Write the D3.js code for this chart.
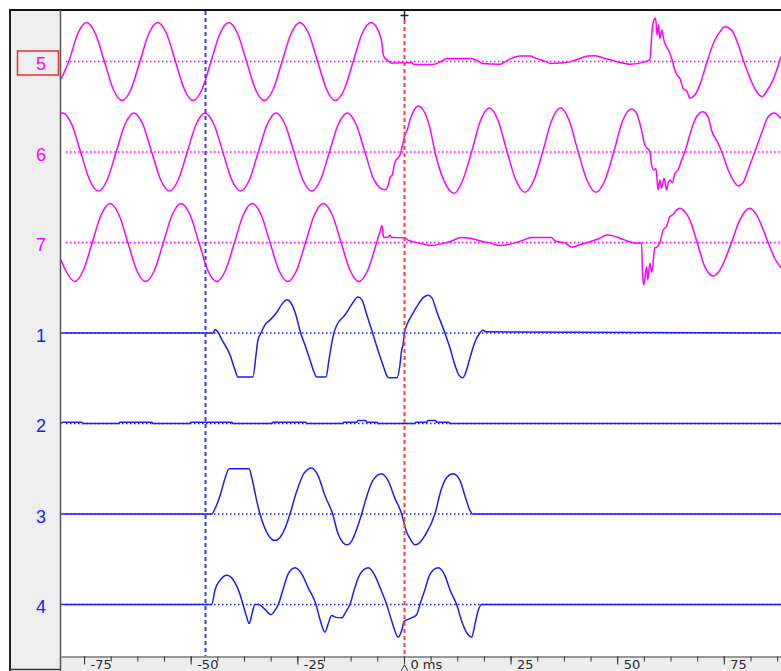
<!DOCTYPE html>
<html><head><meta charset="utf-8">
<script src="https://cdn.jsdelivr.net/npm/d3@7"></script>
<style>
html,body{margin:0;padding:0;background:#fff;}
svg{display:block;}
</style></head>
<body><svg id="c" width="781" height="671"></svg>
<script>
// ---- data (time in ms, value in per-unit) ----
const channelOrder = ["5","6","7","1","2","3","4"];
const channelColor = {"5":"#ff00ff","6":"#ff00ff","7":"#ff00ff","1":"#1c1cff","2":"#1c1cff","3":"#1c1cff","4":"#1c1cff"};
const majorTicks = [-75,-50,-25,0,25,50,75];
const majorLabels = ["-75","-50","-25","0 ms","25","50","75"];
const cursorTimes = [-46.6, 0];

const ch5 = [[-80.4,-.45],[-78.57,0],[-76.48,.71],[-74.4,1],[-72.32,.71],[-70.23,0],[-68.15,-.71],[-66.07,-1],[-63.98,-.71],[-61.9,0],[-59.82,.71],[-57.73,1],[-55.65,.71],[-53.57,0],[-51.48,-.71],[-49.4,-1],[-47.32,-.71],[-45.23,0],[-43.15,.71],[-41.07,1],[-38.98,.71],[-36.9,0],[-34.82,-.71],[-32.73,-1],[-30.65,-.71],[-28.57,0],[-26.48,.71],[-24.4,1],[-22.32,.71],[-20.23,0],[-18.15,-.71],[-16.07,-1],[-13.98,-.71],[-11.9,0],[-9.82,.71],[-7.73,1],[-6.1,.81],[-5.16,.47],[-4.85,.17],[-4.45,.09],[-3.75,.03],[-3.05,-.04],[1.87,-.03],[2.34,-.08],[6.56,-.08],[8.67,0],[10.08,.08],[15.47,.08],[16.87,.04],[18.5,-.05],[22.5,-.07],[23.67,-.01],[24.84,.06],[27.19,.14],[29.53,.14],[30.94,.08],[33.04,.01],[34.45,-.05],[36.56,-.04],[38.9,-.01],[40.31,.04],[43.12,.14],[44.76,.15],[47.1,.08],[49.45,.01],[51.79,-.05],[52.96,-.07],[56.48,-.01],[57.65,.04],[58.19,.81],[58.59,1.06],[58.99,1.11],[59.36,.68],[59.69,.94],[60.0,.59],[60.47,.81],[60.93,.55],[61.56,.38],[62.34,.21],[62.97,0],[63.51,-.22],[64.05,-.35],[64.68,-.43],[65.46,-.69],[66.39,-.77],[67.03,-.94],[68.2,-.86],[69.37,-.6],[71.08,0],[72.89,.55],[74.06,.76],[75.23,.89],[76.8,.81],[77.97,.55],[79.68,0],[81.49,-.52],[82.66,-.77],[83.97,-.9],[85.0,-.77],[86.55,-.47],[88.4,.12]];

const ch6 = [[-80.4,.99],[-79.97,1],[-77.89,.71],[-75.8,0],[-73.72,-.71],[-71.64,-1],[-69.55,-.71],[-67.47,0],[-65.39,.71],[-63.3,1],[-61.22,.71],[-59.14,0],[-57.05,-.71],[-54.97,-1],[-52.89,-.71],[-50.8,0],[-48.72,.71],[-46.64,1],[-44.55,.71],[-42.47,0],[-40.39,-.71],[-38.3,-1],[-36.22,-.71],[-34.14,0],[-32.05,.71],[-29.97,1],[-27.89,.71],[-25.8,0],[-23.72,-.71],[-21.64,-1],[-19.55,-.71],[-17.47,0],[-15.39,.71],[-13.3,1],[-11.22,.71],[-9.14,0],[-7.05,-.71],[-5.62,-.92],[-4.45,-.97],[-3.9,-.92],[-3.6,-.8],[-3.2,-.64],[-2.8,-.6],[-2.11,-.26],[-.94,-.08],[-.16,.26],[.23,.44],[.63,.52],[1.41,.82],[2.19,1.03],[3.35,1.18],[4.92,1.0],[6.09,.62],[7.27,0],[9.4,-.74],[11.79,-1.06],[13.77,-.73],[15.85,0],[17.94,.8],[20.02,1.13],[22.1,.8],[24.19,0],[26.27,-.73],[28.35,-1.03],[30.44,-.73],[32.52,0],[34.6,.8],[36.69,1.13],[38.77,.8],[40.85,0],[42.94,-.73],[45.02,-1.03],[47.1,-.73],[49.19,0],[51.27,.8],[53.35,1.1],[54.53,.99],[55.7,.56],[56.48,.18],[57.65,.01],[58.05,-.33],[58.59,-.46],[59.06,-.42],[59.36,-.72],[59.6,-.97],[60.0,-.72],[60.39,-.93],[61.0,-.67],[61.56,-.97],[61.94,-.8],[62.34,-.72],[62.97,-.79],[63.51,-.55],[64.28,-.46],[65.08,-.21],[65.85,0],[67.03,.44],[68.2,.82],[69.21,.99],[70.0,1.03],[71.31,.9],[72.11,.56],[73.66,.22],[74.53,0],[76.0,-.46],[77.17,-.72],[78.35,-.87],[79.52,-.79],[80.69,-.46],[82.26,0],[83.97,.52],[85.38,.9],[86.78,1.0],[88.4,.86]];

const ch7 = [[-80.4,-.45],[-79.32,-.71],[-77.23,-1],[-75.15,-.71],[-73.07,0],[-70.98,.71],[-68.9,1],[-66.82,.71],[-64.73,0],[-62.65,-.71],[-60.57,-1],[-58.48,-.71],[-56.4,0],[-54.32,.71],[-52.23,1],[-50.15,.71],[-48.07,0],[-45.98,-.71],[-43.9,-1],[-41.82,-.71],[-39.73,0],[-37.65,.71],[-35.57,1],[-33.48,.71],[-31.4,0],[-29.32,-.71],[-27.23,-1],[-25.15,-.71],[-23.07,0],[-20.98,.71],[-18.9,1],[-16.82,.71],[-14.73,0],[-12.65,-.71],[-10.57,-1],[-8.48,-.71],[-6.4,0],[-6.02,.14],[-5.62,.27],[-5.23,.42],[-5.04,.4],[-4.85,.17],[-4.69,.13],[-3.6,.14],[-3.28,.19],[-2.9,.13],[.23,.12],[.94,.06],[3.75,-.02],[6.49,-.08],[8.44,-.04],[10.78,.02],[13.52,.13],[15.47,.11],[18.58,.02],[20.15,-.01],[22.5,-.08],[26.01,-.01],[27.96,.06],[29.93,.13],[34.61,.13],[35.39,.04],[37.73,-.01],[39.3,-.12],[41.25,-.06],[43.59,.02],[45.93,.11],[47.5,.19],[49.05,.17],[51.39,.08],[54.14,-.01],[55.7,-.01],[55.94,-.83],[56.25,-1.09],[56.88,-.62],[57.18,-.96],[57.65,-.53],[58.12,-.76],[58.82,-.14],[59.29,-.12],[60.0,-.01],[60.77,.32],[61.56,.41],[62.34,.66],[63.04,.71],[63.91,.83],[64.68,.88],[65.85,.79],[67.03,.58],[68.74,0],[70.54,-.62],[72.49,-.86],[74.06,-.71],[76.8,0],[78.74,.58],[81.09,.88],[82.66,.71],[85.38,0],[86.95,-.41],[88.4,-.65]];

const ch1 = [[-80.4,0],[-44.76,0],[-44.3,.09],[-43.82,.05],[-42.65,-.18],[-40.78,-.56],[-39.6,-.95],[-38.9,-1.13],[-35.39,-1.13],[-34.68,-.56],[-34.22,-.18],[-33.51,0],[-32.58,.21],[-31.41,.33],[-29.76,.54],[-28.59,.74],[-27.42,.85],[-26.48,.77],[-25.54,.54],[-24.21,0],[-23.2,-.31],[-22.03,-.69],[-21.09,-1.0],[-20.46,-1.13],[-18.28,-1.13],[-17.58,-.69],[-16.87,-.23],[-16.41,0],[-15.7,.21],[-13.83,.46],[-12.19,.74],[-10.78,.92],[-9.84,.85],[-8.91,.54],[-7.34,0],[-6.09,-.44],[-4.92,-.82],[-3.98,-1.1],[-3.52,-1.15],[-1.64,-1.15],[-.94,-.82],[-.54,-.44],[-.23,-.31],[.12,0],[.7,.21],[1.87,.46],[3.28,.72],[4.45,.9],[5.62,.97],[6.56,.9],[7.73,.54],[9.61,0],[10.78,-.38],[11.95,-.82],[12.89,-1.08],[13.76,-1.15],[14.53,-1.0],[15.47,-.64],[16.64,-.23],[17.81,0],[18.51,.08],[19.22,.03],[88.4,0]];

const ch2 = [[-80.4,0],[-79.92,.03],[-75.47,.03],[-75.3,0],[-66.79,0],[-66.6,.03],[-59.06,.03],[-58.9,0],[-50.15,0],[-50.0,.03],[-40.31,.03],[-40.15,0],[-30.94,0],[-30.8,.03],[-22.97,.03],[-22.8,0],[-14.3,0],[-14.15,.03],[-11.01,.03],[-10.85,.08],[-8.91,.08],[-8.75,.03],[-6.33,.03],[-6.15,0],[2.58,0],[2.75,.03],[5.39,.03],[5.55,.08],[7.5,.08],[7.65,.03],[10.55,.03],[10.7,0],[88.4,0]];

const ch3 = [[-80.4,0],[-45.07,0],[-44.29,.14],[-43.12,.47],[-41.95,.91],[-41.01,1.16],[-36.33,1.16],[-35.62,.91],[-34.68,.42],[-33.75,0],[-32.58,-.37],[-31.41,-.6],[-30.23,-.68],[-29.06,-.6],[-27.89,-.37],[-26.72,0],[-25.08,.6],[-23.44,1.04],[-21.63,1.18],[-20.16,.99],[-18.51,.47],[-16.71,0],[-15.47,-.5],[-14.3,-.73],[-13.43,-.79],[-12.19,-.68],[-11.01,-.37],[-9.91,0],[-8.67,.47],[-7.27,.86],[-5.23,1.03],[-3.75,.86],[-2.11,.4],[-.54,0],[0,-.22],[.35,-.37],[1.41,-.63],[2.58,-.79],[3.75,-.73],[4.92,-.55],[7.27,0],[8.67,.6],[10.08,.94],[11.55,1.03],[13.12,.86],[14.3,.47],[15.47,.09],[16.17,0],[88.4,0]];

const ch4 = [[-80.4,0],[-45.07,0],[-44.29,.38],[-43.12,.62],[-41.48,.75],[-40.08,.64],[-38.44,.26],[-37.73,0],[-37.03,-.26],[-36.26,-.49],[-35.62,-.23],[-34.92,0],[-33.98,0],[-32.81,-.1],[-31.17,-.26],[-30.23,-.15],[-29.46,0],[-28.36,.38],[-27.19,.77],[-25.54,.94],[-23.9,.77],[-22.5,.44],[-20.62,0],[-19.69,-.38],[-18.51,-.71],[-17.81,-.51],[-16.95,-.28],[-15.94,-.33],[-14.6,-.34],[-13.59,-.18],[-12.66,0],[-11.48,.44],[-10.31,.77],[-8.37,.94],[-6.8,.74],[-5.62,.44],[-4.05,0],[-2.81,-.44],[-1.34,-.84],[-.47,-.64],[0,-.44],[1.41,-.36],[2.98,-.26],[3.75,0],[4.92,.38],[6.09,.77],[8.04,.94],[9.61,.74],[10.78,.38],[12.35,0],[13.59,-.44],[15.0,-.77],[15.87,-.84],[16.64,-.51],[17.34,-.18],[18.21,0],[88.4,0]];

const channelData = {"5":ch5,"6":ch6,"7":ch7,"1":ch1,"2":ch2,"3":ch3,"4":ch4};
const selectedChannel = "5";

// ---- layout ----
const svg = d3.select("#c");
const plotL = 61, plotR = 781, plotT = 11, plotB = 656;
const x = d3.scaleLinear().domain([-80.4, 88.4]).range([plotL, plotR]);
const row = d3.scalePoint().domain(channelOrder).range([61.5, 604.5]);
const v = d3.scaleLinear().domain([-1, 1]).range([39, -39]);

svg.append("rect").attr("width",781).attr("height",671).attr("fill","#fff");
svg.append("rect").attr("x",10).attr("y",10).attr("width",50).attr("height",660).attr("fill","#eeeeee");
svg.append("rect").attr("x",60).attr("y",656).attr("width",721).attr("height",15).attr("fill","#ececec");

svg.append("clipPath").attr("id","clip").append("rect")
  .attr("x",plotL).attr("y",plotT).attr("width",plotR-plotL).attr("height",plotB-plotT);

const plot = svg.append("g").attr("clip-path","url(#clip)");

// dotted baselines
plot.selectAll("line.base").data(channelOrder).join("line")
  .attr("class","base")
  .attr("x1",66).attr("x2",plotR)
  .attr("y1",d=>row(d)).attr("y2",d=>row(d))
  .attr("stroke",d=>channelColor[d]).attr("stroke-width",1.5)
  .attr("stroke-dasharray","1.5,2.5");

// traces
plot.selectAll("path.trace").data(channelOrder).join("path")
  .attr("class","trace")
  .attr("fill","none")
  .attr("stroke",d=>channelColor[d])
  .attr("stroke-width",1.5)
  .attr("stroke-linejoin","round")
  .attr("d",ch=>d3.line()
      .x(p=>x(p[0]))
      .y(p=>row(ch)+v(p[1]))
      .curve(d3.curveMonotoneX)(channelData[ch]));

// cursors
const cursorColors = ["#3a3aff","#ff4040"];
svg.selectAll("line.cursor").data(cursorTimes).join("line")
  .attr("class","cursor")
  .attr("x1",d=>Math.round(x(d))+0.5).attr("x2",d=>Math.round(x(d))+0.5)
  .attr("y1",(d,i)=>i===1?20:11).attr("y2",plotB)
  .attr("stroke",(d,i)=>cursorColors[i]).attr("stroke-width",2)
  .attr("stroke-dasharray","4,3");

// axis
const axisG = svg.append("g").attr("transform",`translate(0,${plotB+0.5})`);
const minorAxis = d3.axisBottom(x).tickValues(d3.range(-75, 88, 6.25)).tickSize(5).tickSizeOuter(0).tickFormat("");
const majorAxis = d3.axisBottom(x).tickValues(majorTicks).tickSize(8).tickSizeOuter(0)
  .tickFormat((d,i)=>majorLabels[i]);
axisG.append("g").call(minorAxis).call(g=>g.select(".domain").remove());
const mg = axisG.append("g").call(majorAxis);
axisG.selectAll("line").attr("stroke","#333");
mg.select(".domain").attr("stroke","#444");
mg.selectAll("text").attr("text-anchor","start").attr("x",6).attr("y",3).attr("dy","0.71em")
  .attr("font-family","DejaVu Sans").attr("font-size",13).attr("fill","#2a2a2a");

// zero caret
const x0 = Math.round(x(0))+0.5;
svg.append("path").attr("d",`M${x0-3.5},671 L${x0},665 L${x0+3.5},671`)
  .attr("fill","none").attr("stroke","#333").attr("stroke-width",1);

// frame lines
svg.append("line").attr("x1",9).attr("x2",781).attr("y1",10).attr("y2",10).attr("stroke","#111").attr("stroke-width",2);
svg.append("line").attr("x1",10).attr("x2",10).attr("y1",9).attr("y2",671).attr("stroke","#222").attr("stroke-width",2);
svg.append("line").attr("x1",60.5).attr("x2",60.5).attr("y1",10).attr("y2",671).attr("stroke","#555").attr("stroke-width",1.5);
svg.append("line").attr("x1",10).attr("x2",60).attr("y1",669.5).attr("y2",669.5).attr("stroke","#333").attr("stroke-width",1.5);

// top cursor marker
svg.append("path").attr("d",`M${x0-4},15.5 H${x0+4} M${x0},10 V20`)
  .attr("stroke","#222244").attr("stroke-width",1.5);

// channel labels
svg.selectAll("text.lab").data(channelOrder).join("text")
  .attr("class","lab")
  .attr("x",41).attr("y",d=>row(d)+2.5)
  .attr("text-anchor","middle").attr("dominant-baseline","central")
  .attr("font-family","Liberation Sans").attr("font-size",18)
  .attr("fill",d=>channelColor[d])
  .text(d=>d);

// selected channel box
svg.append("rect").attr("x",17.5).attr("y",row(selectedChannel)-10.5).attr("width",41).attr("height",24)
  .attr("fill","none").attr("stroke","#e53030").attr("stroke-width",1.5);
</script></body></html>
